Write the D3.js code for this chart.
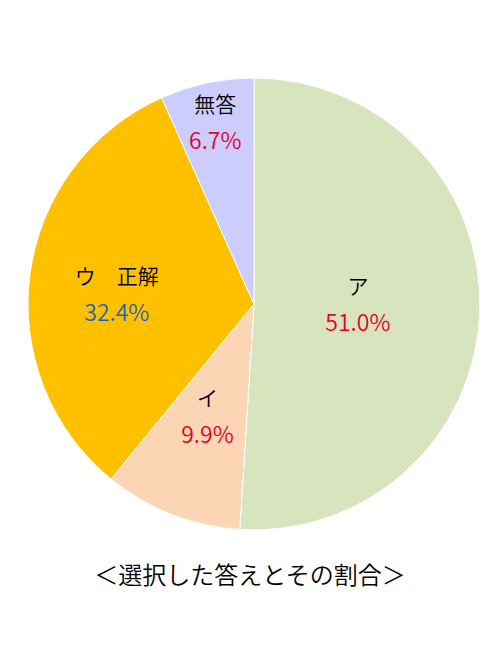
<!DOCTYPE html>
<html>
<head>
<meta charset="utf-8">
<script src="https://cdn.jsdelivr.net/npm/d3@7"></script>
<style>
  body { margin: 0; background: #fff; }
  svg text { font-family: "Noto Sans CJK JP", "Noto Sans", sans-serif; font-weight: 350; }
</style>
</head>
<body>
<svg id="pie" width="500" height="660"></svg>
<script>
const names = ["ア", "イ", "ウ　正解", "無答"];
const shares = [51.0, 9.9, 32.4, 6.7];
const pctColors = ["#e8001e", "#e8001e", "#1f66b8", "#e8001e"];
const fills = ["#d8e4bd", "#fcd5b5", "#ffc000", "#ccccff"];

function drawPie() {
  let svg = d3.select("#pie"),
      cx = 254, cy = 304, radius = 226,
      g = svg.append("g").attr("transform", "translate(" + cx + "," + cy + ")");

  // labels were hand placed in the original: distance + small nudge per slice
  let labelR = [0.46, 0.54, 0.59, 0.82];
  let nudge = [[0, -2], [-2, -1], [-5, 9], [0, 0]];

  let pie = d3.pie().sort(null).value(d => d.v);
  let arcs = pie(names.map((n, i) => ({name: n, v: shares[i], i: i})));

  let arc = d3.arc().innerRadius(0).outerRadius(radius);

  g.selectAll(".slice")
    .data(arcs)
    .enter()
    .append("path")
    .attr("class", "slice")
    .attr("d", arc)
    .style("fill", d => fills[d.data.i])
    .style("stroke", "#fff")
    .style("stroke-width", 1);

  let lab = g.selectAll(".lab")
    .data(arcs)
    .enter()
    .append("g")
    .attr("class", "lab")
    .attr("transform", d => {
      let r = radius * labelR[d.data.i];
      let c = d3.arc().innerRadius(r).outerRadius(r).centroid(d);
      let n = nudge[d.data.i];
      return "translate(" + (c[0] + n[0]) + "," + (c[1] + n[1]) + ")";
    });

  lab.append("text")
    .attr("text-anchor", "middle")
    .attr("y", -11)
    .style("font-size", "21px")
    .style("fill", "#000")
    .text(d => d.data.name);

  lab.append("text")
    .attr("text-anchor", "middle")
    .attr("y", 26)
    .style("font-size", "23px")
    .style("fill", d => pctColors[d.data.i])
    .text(d => d.data.v.toFixed(1) + "%");

  svg.append("text")
    .attr("x", 250)
    .attr("y", 584)
    .attr("text-anchor", "middle")
    .style("font-size", "24px")
    .style("fill", "#000")
    .text("＜選択した答えとその割合＞");
}

drawPie();
</script>
</body>
</html>
